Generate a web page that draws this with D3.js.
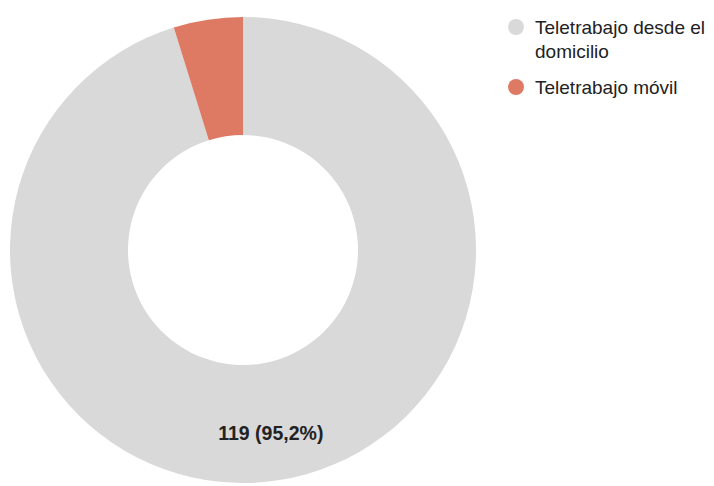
<!DOCTYPE html>
<html>
<head>
<meta charset="utf-8">
<script src="https://cdn.jsdelivr.net/npm/d3@7"></script>
<style>
  html, body { margin: 0; padding: 0; background: #fff; }
  svg { display: block; font-family: Arial, "Liberation Sans", sans-serif; }
</style>
</head>
<body>
<svg id="chart" width="714" height="486"></svg>
<script>
// Teletrabajo: número de casos por modalidad
const categories = ["Teletrabajo desde el domicilio", "Teletrabajo móvil"];
const values = [119, 6];
const colors = ["#d9d9d9", "#de7964"];
const legendLines = [["Teletrabajo desde el", "domicilio"], ["Teletrabajo móvil"]];

const svg = d3.select("#chart");
const cx = 243, cy = 250;
const outerR = 233, innerR = 115;

const data = categories.map((c, i) => ({ name: c, value: values[i], color: colors[i] }));
const total = d3.sum(values);

const pie = d3.pie().value(d => d.value).sort(null);
const arc = d3.arc().innerRadius(innerR).outerRadius(outerR);
const labelArc = d3.arc().innerRadius(185).outerRadius(185);

const g = svg.append("g").attr("transform", `translate(${cx},${cy})`);
const arcs = pie(data);

g.selectAll("path.slice")
  .data(arcs)
  .join("path")
  .attr("class", "slice")
  .attr("d", arc)
  .attr("fill", d => d.data.color);

// Value label only for slices large enough to hold it
const fmt = v => (v * 100).toFixed(1).replace(".", ",");
g.selectAll("text.val")
  .data(arcs.filter(d => d.endAngle - d.startAngle > 0.5))
  .join("text")
  .attr("class", "val")
  .attr("transform", d => `translate(${labelArc.centroid(d)})`)
  .attr("text-anchor", "middle")
  .attr("dy", "0.35em")
  .attr("font-size", 19.5)
  .attr("font-weight", "bold")
  .attr("fill", "#222")
  .text(d => `${d.data.value} (${fmt(d.data.value / total)}%)`);

// Legend
const legendY = [27, 87];
const legend = svg.append("g");
data.forEach((d, i) => {
  const row = legend.append("g").attr("transform", `translate(516,${legendY[i]})`);
  row.append("circle").attr("r", 8).attr("fill", d.color);
  const t = row.append("text")
    .attr("x", 19)
    .attr("y", 6.5)
    .attr("font-size", 19)
    .attr("fill", "#222");
  legendLines[i].forEach((line, j) => {
    t.append("tspan").attr("x", 19).attr("dy", j === 0 ? 0 : 24.5).text(line);
  });
});
</script>
</body>
</html>
